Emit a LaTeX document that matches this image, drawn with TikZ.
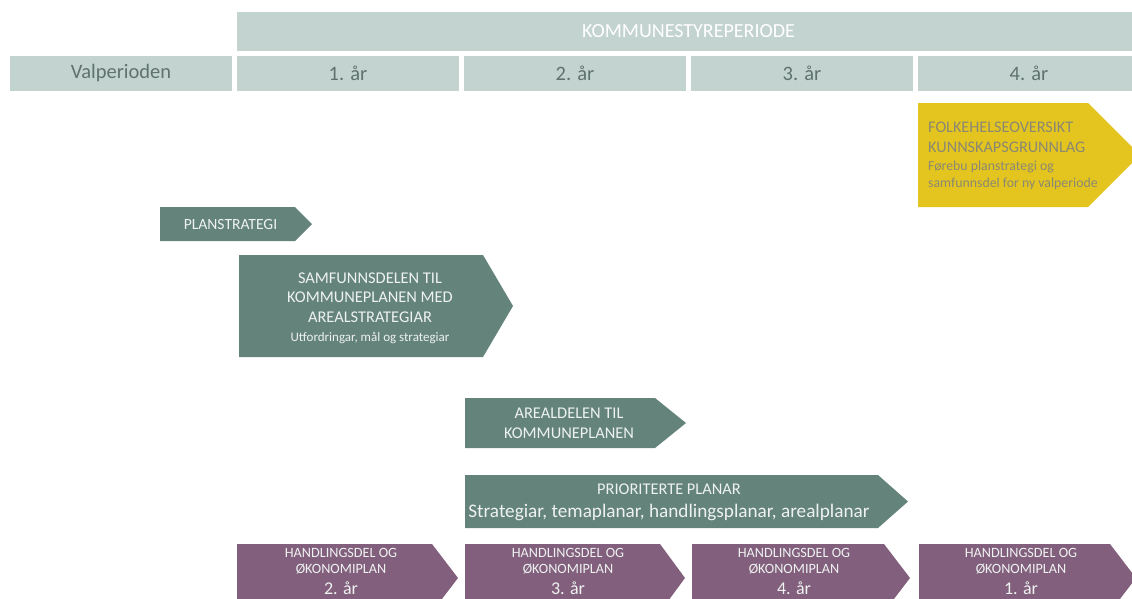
\documentclass[tikz,border=0pt]{standalone}
\usepackage{fontspec}
\setmainfont{Carlito}
\usetikzlibrary{positioning}
\definecolor{headgrey}{HTML}{C3D3CF}
\definecolor{headtext}{HTML}{5F726D}
\definecolor{plangreen}{HTML}{64837B}
\definecolor{planpurple}{HTML}{825F7C}
\definecolor{planyellow}{HTML}{E4C520}
\definecolor{yellowtext}{HTML}{8A8872}
\definecolor{lighttext}{HTML}{EEF2F1}

% arrow plate: fill, left, top, tip start, tip point, bottom
\newcommand{\planplate}[6]{\fill[#1] (#2,#3) -- (#4,#3) -- (#5,{(#3+#6)/2}) -- (#4,#6) -- (#2,#6) -- cycle;}

\begin{document}
\begin{tikzpicture}[x=1pt, y=-1pt,
  period/.style={fill=headgrey, minimum width=903pt, minimum height=39pt, inner sep=0pt, text=white, font=\fontsize{20}{24}\selectfont},
  yearbox/.style={fill=headgrey, minimum width=222pt, minimum height=35pt, inner sep=0pt, text=headtext, font=\fontsize{20.5}{24}\selectfont},
  greentext/.style={align=center, text=lighttext, font=\fontsize{16.4}{19.8}\selectfont},
  purpletext/.style={align=center, text=lighttext, font=\fontsize{14.2}{16}\selectfont},
  yellowlabel/.style={align=left, anchor=west, inner sep=0pt, text=yellowtext, font=\fontsize{13.8}{17}\selectfont}
]
  \useasboundingbox (0,0) rectangle (1132,598);

  % Header
  \node[period] (periode) at (688.5,31.5) {KOMMUNESTYREPERIODE};
  \node[yearbox] (valp) at (121,73.5) {Valperioden};
  \node[yearbox] (aar1) at (348,73.5) {1. år};
  \node[yearbox] (aar2) at (575,73.5) {2. år};
  \node[yearbox] (aar3) at (802,73.5) {3. år};
  \node[yearbox] (aar4) at (1029,73.5) {4. år};

  % Plates
  \planplate{planyellow}{918}{103}{1088}{1140}{207}
  \planplate{plangreen}{160}{207}{295}{312}{241}
  \planplate{plangreen}{239}{255}{483}{513}{357}
  \planplate{plangreen}{465}{398}{655}{686}{448}
  \planplate{plangreen}{465}{475}{878}{908}{528}
  \planplate{planpurple}{237}{544}{432}{458}{612}
  \planplate{planpurple}{465}{544}{660}{685}{612}
  \planplate{planpurple}{692}{544}{884}{910}{612}
  \planplate{planpurple}{919}{544}{1110}{1136}{612}

  % Labels
  \node[yellowlabel] (folkehelse) at (928,156) {{\fontsize{16.2}{20}\selectfont FOLKEHELSEOVERSIKT}\\[3pt]{\fontsize{16.2}{20}\selectfont KUNNSKAPSGRUNNLAG}\\[0.7pt]Førebu planstrategi og\\samfunnsdel for ny valperiode};
  \node[greentext, font=\fontsize{15.6}{19}\selectfont] (planstrategi) at (230.5,224) {PLANSTRATEGI};
  \node[greentext] (samfunnsdel) at (370,308) {SAMFUNNSDELEN TIL\\KOMMUNEPLANEN MED\\AREALSTRATEGIAR\\[-1pt]{\fontsize{13}{16}\selectfont Utfordringar, mål og strategiar}};
  \node[greentext] (arealdel) at (569,423) {AREALDELEN TIL\\KOMMUNEPLANEN};
  \node[greentext] (prioriterte) at (669,502) {PRIORITERTE PLANAR\\[3pt]{\fontsize{19.2}{22}\selectfont Strategiar, temaplanar, handlingsplanar, arealplanar}};
  \node[purpletext] (hand1) at (341,571) {HANDLINGSDEL OG\\ØKONOMIPLAN\\[5pt]{\fontsize{18}{20}\selectfont 2. år}};
  \node[purpletext] (hand2) at (568,571) {HANDLINGSDEL OG\\ØKONOMIPLAN\\[5pt]{\fontsize{18}{20}\selectfont 3. år}};
  \node[purpletext] (hand3) at (794,571) {HANDLINGSDEL OG\\ØKONOMIPLAN\\[5pt]{\fontsize{18}{20}\selectfont 4. år}};
  \node[purpletext] (hand4) at (1021,571) {HANDLINGSDEL OG\\ØKONOMIPLAN\\[5pt]{\fontsize{18}{20}\selectfont 1. år}};
\end{tikzpicture}
\end{document}
